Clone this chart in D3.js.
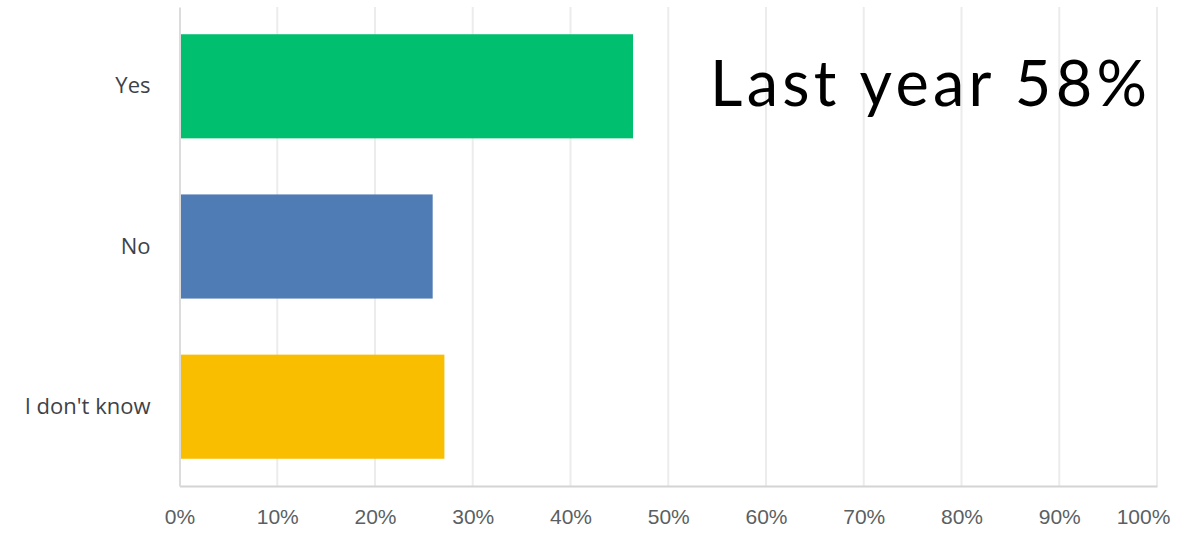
<!DOCTYPE html>
<html>
<head>
<meta charset="utf-8">
<script src="https://cdn.jsdelivr.net/npm/d3@7"></script>
<style>
    body { margin: 0; background: #fff; overflow: hidden; }
    svg { display: block; }
</style>
</head>
<body>
<script>
// antwoorden en percentages
const categories = ['Yes', 'No', "I don't know"];
const values = [46.4, 25.9, 27.1];
const colors = ['#00bf6f', '#507cb6', '#f9be00'];
const tickValues = [0, 10, 20, 30, 40, 50, 60, 70, 80, 90, 100];
const note = 'Last year 58%';

const data = categories.map((c, i) => ({ antwoord: c, procent: values[i], kleur: colors[i] }));

const svg = d3.select('body').append('svg')
    .attr('width', 1186)
    .attr('height', 534);

const margin = { top: 7, right: 29, bottom: 48, left: 179.5 };
const innerWidth = 1186 - margin.left - margin.right;
const innerHeight = 534 - margin.top - margin.bottom;

const xScale = d3.scaleLinear()
    .domain([0, 100])
    .range([0, innerWidth]);

const yScale = d3.scaleBand()
    .domain(categories)
    .range([0, innerHeight])
    .paddingInner(0.35)
    .paddingOuter(0.17);

const g = svg.append('g')
    .attr('transform', `translate(${margin.left}, ${margin.top})`);

// gridlijnen
g.append('g')
    .selectAll('line')
    .data(tickValues.slice(1))
    .enter()
    .append('line')
    .attr('x1', d => xScale(d))
    .attr('x2', d => xScale(d))
    .attr('y1', 0)
    .attr('y2', innerHeight)
    .attr('stroke', '#ececec')
    .attr('stroke-width', 2);

// bars
g.selectAll('rect')
    .data(data)
    .enter()
    .append('rect')
    .attr('x', 1)
    .attr('y', d => yScale(d.antwoord))
    .attr('width', d => xScale(d.procent) - 1)
    .attr('height', yScale.bandwidth())
    .style('fill', d => d.kleur);

// x-as
const xAxis = g.append('g')
    .attr('transform', `translate(0,${innerHeight})`)
    .call(d3.axisBottom(xScale).tickValues(tickValues).tickFormat(d => d + '%').tickSize(0).tickPadding(0))
    .attr('font-size', 21)
    .attr('font-family', '"Liberation Sans", Arial, sans-serif');
xAxis.select('.domain').attr('stroke', '#d4d4d4').attr('stroke-width', 2);
xAxis.selectAll('text')
    .attr('y', 31)
    .attr('dy', '0.35em')
    .attr('fill', '#5a5f63')
    .attr('dx', d => d === 100 ? -14 : 0);

// y-as
const yAxis = g.append('g')
    .call(d3.axisLeft(yScale).tickSize(0).tickPadding(29))
    .attr('font-size', 22)
    .attr('font-family', '"Open Sans", sans-serif');
yAxis.select('.domain').attr('stroke', '#dcdcdc').attr('stroke-width', 2);
yAxis.selectAll('text')
    .attr('fill', '#3d4248');

// notitie rechtsboven
svg.append('text')
    .attr('x', 1147)
    .attr('y', 106)
    .attr('text-anchor', 'end')
    .attr('font-family', 'Lato, sans-serif')
    .attr('font-size', 63)
    .attr('textLength', 437)
    .attr('lengthAdjust', 'spacing')
    .attr('fill', '#000')
    .text(note);
</script>
</body>
</html>
